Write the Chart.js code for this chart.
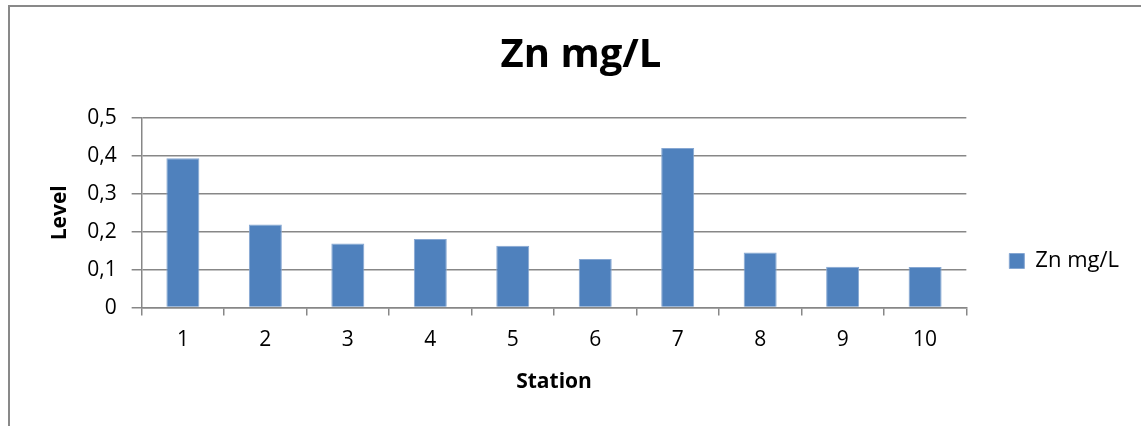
<!DOCTYPE html>
<html>
<head>
<meta charset="utf-8">
<script src="https://cdn.jsdelivr.net/npm/chart.js@4/dist/chart.umd.min.js"></script>
<style>
	html, body { margin: 0; padding: 0; background: #fff; }
	#wrap { width: 1141px; height: 426px; position: relative; }
</style>
</head>
<body>
<div id="wrap"><canvas id="myChart" width="1141" height="426"></canvas></div>
<script>
// Values
var stations = ['1', '2', '3', '4', '5', '6', '7', '8', '9', '10'];
var znLevels = [0.394, 0.219, 0.169, 0.181, 0.163, 0.128, 0.421, 0.145, 0.108, 0.107];
var yTicks = [0, 0.1, 0.2, 0.3, 0.4, 0.5];

var fontFamily = '"Open Sans", Lato, sans-serif';
var gridGrey = '#878787';

// Outer frame of the chart (only top and left edges are visible)
var frame = {
	id: 'frame',
	afterDraw: function (chart) {
		var ctx = chart.ctx;
		ctx.save();
		ctx.strokeStyle = '#898989';
		ctx.lineWidth = 2;
		ctx.beginPath();
		ctx.moveTo(chart.width, 6);
		ctx.lineTo(9, 6);
		ctx.lineTo(9, chart.height);
		ctx.stroke();
		ctx.restore();
	},
};

Chart.defaults.font.family = fontFamily;
Chart.defaults.color = '#000';

new Chart(document.getElementById('myChart'), {
	type: 'bar',
	data: {
		labels: stations,
		datasets: [
			{
				label: 'Zn mg/L',
				data: znLevels,
				backgroundColor: '#4f81bd',
				borderColor: '#86a7d2',
				borderWidth: 1,
				barPercentage: 0.4,
				categoryPercentage: 1,
			},
		],
	},
	options: {
		responsive: false,
		animation: false,
		layout: { padding: { left: 33, right: 12, top: 0, bottom: 31 } },
		plugins: {
			title: {
				display: true,
				text: 'Zn mg/L',
				font: { size: 40, weight: 'bold' },
				padding: { top: 32, bottom: 38 },
			},
			legend: {
				position: 'right',
				title: { display: true, text: '', font: { size: 10 }, padding: { top: 115, bottom: 0 } },
				labels: {
					boxWidth: 15,
					boxHeight: 15,
					padding: 43,
					font: { size: 22 },
				},
			},
			tooltip: { enabled: false },
		},
		scales: {
			x: {
				grid: {
					display: true,
					drawOnChartArea: false,
					offset: true,
					tickLength: 8,
					color: gridGrey,
					lineWidth: 1.5,
				},
				border: { display: true, color: gridGrey, width: 1.5 },
				ticks: { font: { size: 21 }, padding: 12 },
				title: {
					display: true,
					text: 'Station',
					font: { size: 21, weight: 'bold' },
					padding: { top: 5, bottom: 0 },
				},
			},
			y: {
				min: 0,
				max: 0.5,
				afterBuildTicks: function (scale) {
					scale.ticks = yTicks.map(function (v) {
						return { value: v };
					});
				},
				grid: { color: gridGrey, lineWidth: 1.5, tickLength: 10 },
				border: { display: true, color: gridGrey, width: 1.5 },
				ticks: {
					font: { size: 21 },
					padding: 15,
					callback: function (v) {
						return v === 0 ? '0' : v.toFixed(1).replace('.', ',');
					},
				},
				title: {
					display: true,
					text: 'Level',
					font: { size: 21, weight: 'bold' },
					padding: { top: 14, bottom: 0 },
				},
			},
		},
	},
	plugins: [frame],
});
</script>
</body>
</html>
